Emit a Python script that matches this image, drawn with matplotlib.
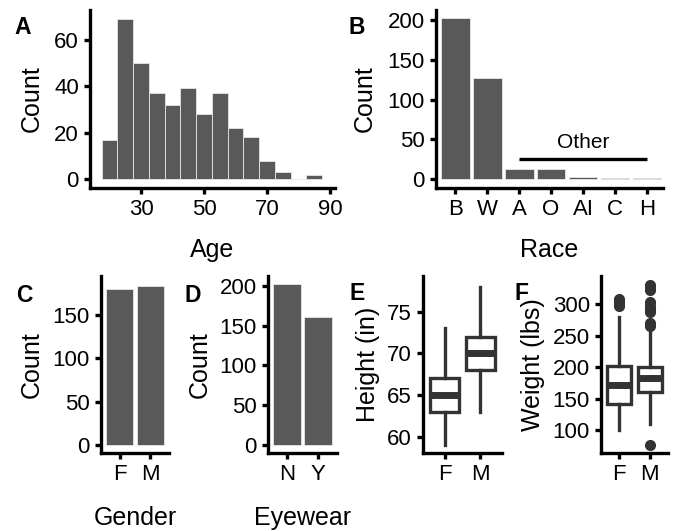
import numpy as np
import matplotlib
matplotlib.use("Agg")
import matplotlib.pyplot as plt

plt.rcParams['font.family'] = ['Liberation Sans', 'DejaVu Sans']

# data
age_centers = [20, 25, 30, 35, 40, 45, 50, 55, 60, 65, 70, 75, 80, 85]
age_counts = [17, 69, 50, 37, 32, 39, 28, 37, 22, 18, 8, 3, 0, 2]

race_labels = ['B', 'W', 'A', 'O', 'AI', 'C', 'H']
race_counts = [202, 127, 13, 13, 3, 1, 1]

gender_labels = ['F', 'M']
gender_counts = [180, 183]

eyewear_labels = ['N', 'Y']
eyewear_counts = [202, 161]

# whislo, q1, median, q3, whishi
height_f = [59, 63, 65, 67, 73]
height_m = [63, 68, 70, 72, 78]
weight_f = [100, 141, 171, 202, 280]
weight_m = [110, 161, 182, 200, 258]
weight_f_out = [298, 302, 305, 309]
weight_m_out = [76, 266, 270, 287, 292, 298, 304, 323, 327, 331]

BAR = '#595959'
BOX = '#333333'
W, H = 674, 531


def rect(x0, y0, x1, y1):
    return [x0 / W, 1 - y1 / H, (x1 - x0) / W, (y1 - y0) / H]


def style(ax):
    for s in ['top', 'right']:
        ax.spines[s].set_visible(False)
    for s in ['left', 'bottom']:
        ax.spines[s].set_linewidth(2.4)
        ax.spines[s].set_capstyle('projecting')
    ax.tick_params(width=2.4, length=4, labelsize=16, pad=4, colors='black')


def labels(ax, xl, yl, xpos, ypos):
    if xl:
        ax.set_xlabel(xl, fontsize=18, va='center')
        ax.xaxis.set_label_coords(0.5, xpos)
    ax.set_ylabel(yl, fontsize=18, va='center')
    ax.yaxis.set_label_coords(ypos, 0.5)


def boxes(ax, stats, outs):
    st = []
    for s, o in zip(stats, outs):
        st.append(dict(whislo=s[0], q1=s[1], med=s[2], q3=s[3], whishi=s[4], fliers=o))
    ax.bxp(st, positions=[0, 1], widths=0.8, patch_artist=True, showcaps=False,
           boxprops=dict(facecolor='white', edgecolor=BOX, linewidth=2.4),
           medianprops=dict(color=BOX, linewidth=5, solid_capstyle='butt'),
           whiskerprops=dict(color=BOX, linewidth=2.4),
           flierprops=dict(marker='o', markerfacecolor=BOX, markeredgecolor=BOX, markersize=7))


fig = plt.figure(figsize=(6.74, 5.31), dpi=100)

# A - age histogram
ax = fig.add_axes(rect(90, 10, 335, 188))
ax.bar(age_centers, age_counts, width=5, color=BAR, edgecolor='#e6e6e6', linewidth=0.6)
ax.set_xlim(13.8, 91.6)
ax.set_ylim(-3.8, 72.7)
ax.set_xticks([30, 50, 70, 90])
ax.set_yticks([0, 20, 40, 60])
style(ax)
labels(ax, 'Age', 'Count', -0.35, -0.237)

# B - race
ax = fig.add_axes(rect(436, 10, 663, 188))
xr = np.arange(len(race_labels))
ax.bar(xr, race_counts, width=0.9, color=BAR, edgecolor='#e6e6e6', linewidth=0.6)
ax.plot([2, 6], [25, 25], color='black', lw=2.4, solid_capstyle='butt')
ax.text(4, 46, 'Other', ha='center', va='center', fontsize=15)
ax.set_xticks(xr)
ax.set_xticklabels(race_labels)
ax.set_xlim(-0.6, 6.5)
ax.set_ylim(-11.3, 212.6)
ax.set_yticks([0, 50, 100, 150, 200])
style(ax)
labels(ax, 'Race', 'Count', -0.35, -0.313)

# C - gender
ax = fig.add_axes(rect(101, 276, 169, 453))
ax.bar([0, 1], gender_counts, width=0.9, color=BAR, edgecolor='#e6e6e6', linewidth=0.6)
ax.set_xticks([0, 1])
ax.set_xticklabels(gender_labels)
ax.set_xlim(-0.6, 1.6)
ax.set_ylim(-9.2, 195)
ax.set_yticks([0, 50, 100, 150])
style(ax)
labels(ax, 'Gender', 'Count', -0.37, -1.015)

# D - eyewear
ax = fig.add_axes(rect(268, 276, 337, 453))
ax.bar([0, 1], eyewear_counts, width=0.9, color=BAR, edgecolor='#e6e6e6', linewidth=0.6)
ax.set_xticks([0, 1])
ax.set_xticklabels(eyewear_labels)
ax.set_xlim(-0.6, 1.6)
ax.set_ylim(-10, 212.2)
ax.set_yticks([0, 50, 100, 150, 200])
style(ax)
labels(ax, 'Eyewear', 'Count', -0.37, -0.986)

# E - height
ax = fig.add_axes(rect(423, 276, 502, 453))
boxes(ax, [height_f, height_m], [[], []])
ax.set_xticks([0, 1])
ax.set_xticklabels(gender_labels)
ax.set_xlim(-0.6, 1.6)
ax.set_ylim(58.04, 79.3)
ax.set_yticks([60, 65, 70, 75])
style(ax)
labels(ax, None, 'Height (in)', None, -0.696)

# F - weight
ax = fig.add_axes(rect(601, 276, 668, 453))
boxes(ax, [weight_f, weight_m], [weight_f_out, weight_m_out])
ax.set_xticks([0, 1])
ax.set_xticklabels(gender_labels)
ax.set_xlim(-0.6, 1.6)
ax.set_ylim(63.4, 345)
ax.set_yticks([100, 150, 200, 250, 300])
style(ax)
labels(ax, None, 'Weight (lbs)', None, -1.015)

for t, x, y in [('A', 23, 28), ('B', 357, 27), ('C', 24, 295),
                ('D', 193, 295), ('E', 357, 294), ('F', 522, 293)]:
    fig.text(x / W, 1 - y / H, t, fontsize=16.5, fontweight='bold', ha='center', va='center')

fig.savefig('out.png', dpi=100)
